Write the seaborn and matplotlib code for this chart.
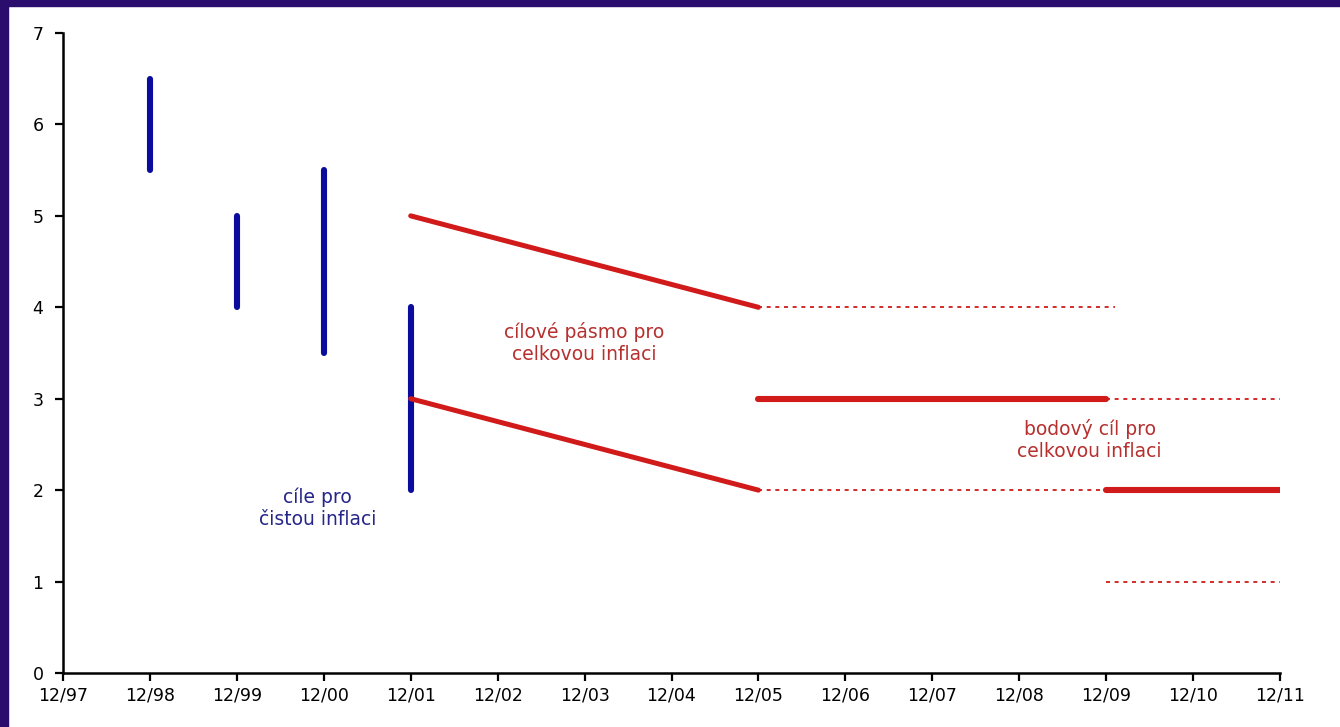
import matplotlib

matplotlib.use("Agg")
import matplotlib.pyplot as plt
import pandas as pd
import seaborn as sns

# ---------------------------------------------------------------------------
# Data
# ---------------------------------------------------------------------------
x_labels = ["12/97", "12/98", "12/99", "12/00", "12/01", "12/02", "12/03",
            "12/04", "12/05", "12/06", "12/07", "12/08", "12/09", "12/10",
            "12/11"]

# net inflation targets (vertical bands)
net_pos = [1, 2, 3, 4]
net_low = [5.5, 4.0, 3.5, 2.0]
net_high = [6.5, 5.0, 5.5, 4.0]

# headline inflation target band (12/01 -> 12/05)
band_x = [4, 8]
band_upper = [5.0, 4.0]
band_lower = [3.0, 2.0]

# point targets (solid) and tolerance bands (dotted)
point_x = [[8, 12], [12, 14]]
point_y = [3.0, 2.0]
dotted_x = [[8, 12.1], [8, 12], [12, 14], [12, 14]]
dotted_y = [4.0, 2.0, 3.0, 1.0]

BLUE = "#0b0b9e"
RED = "#d11a1a"
TXT_RED = "#b5302e"
TXT_BLUE = "#26268a"
FRAME = "#2b0d6e"

sns.set_style("white")
plt.rcParams["font.family"] = ["DejaVu Sans"]

fig = plt.figure(figsize=(13.4, 7.27), dpi=100)
fig.patch.set_facecolor("white")
# purple slide frame on the left and top
fig.add_artist(plt.Rectangle((0, 0), 8 / 1340, 1, transform=fig.transFigure,
                             color=FRAME, zorder=0))
fig.add_artist(plt.Rectangle((0, 1 - 6 / 727), 1, 6 / 727,
                             transform=fig.transFigure, color=FRAME, zorder=0))

ax = fig.add_axes([63 / 1340, 1 - 673 / 727, (1280 - 63) / 1340, (673 - 33) / 727])

# blue vertical bars
for x, lo, hi in zip(net_pos, net_low, net_high):
    seg = pd.DataFrame({"x": [x, x], "y": [lo, hi]})
    sns.lineplot(data=seg, x="x", y="y", estimator=None, sort=False,
                 color=BLUE, linewidth=4.4, solid_capstyle="round", ax=ax)

# sloped target band
for ys in (band_upper, band_lower):
    seg = pd.DataFrame({"x": band_x, "y": ys})
    sns.lineplot(data=seg, x="x", y="y", estimator=None, color=RED,
                 linewidth=3.6, solid_capstyle="round", ax=ax, zorder=3)

# dotted tolerance lines
for xs, y in zip(dotted_x, dotted_y):
    seg = pd.DataFrame({"x": xs, "y": [y, y]})
    sns.lineplot(data=seg, x="x", y="y", estimator=None, color=RED,
                 linewidth=1.3, dashes=False, ax=ax, zorder=2)
    ax.lines[-1].set_linestyle((0, (2.2, 2.6)))

# solid point targets
for xs, y in zip(point_x, point_y):
    seg = pd.DataFrame({"x": xs, "y": [y, y]})
    sns.lineplot(data=seg, x="x", y="y", estimator=None, color=RED,
                 linewidth=4.4, solid_capstyle="round", ax=ax, zorder=3)

# annotations
ax.text(6.0, 3.61, "cílové pásmo pro\ncelkovou inflaci", color=TXT_RED,
        fontsize=13.5, ha="center", va="center", linespacing=1.2)
ax.text(11.81, 2.55, "bodový cíl pro\ncelkovou inflaci", color=TXT_RED,
        fontsize=13.5, ha="center", va="center", linespacing=1.2)
ax.text(2.93, 1.80, "cíle pro\nčistou inflaci", color=TXT_BLUE,
        fontsize=13.5, ha="center", va="center", linespacing=1.2)

ax.set_xlim(0, 14)
ax.set_ylim(0, 7)
ax.set_xticks(range(len(x_labels)))
ax.set_xticklabels(x_labels)
ax.set_yticks(range(0, 8))
ax.set_xlabel("")
ax.set_ylabel("")
ax.tick_params(axis="both", direction="out", length=6, width=1.6,
               colors="black", labelsize=12.5, pad=4,
               bottom=True, left=True)
ax.tick_params(axis="y", pad=8)
for side in ("top", "right"):
    ax.spines[side].set_visible(False)
for side in ("left", "bottom"):
    ax.spines[side].set_linewidth(1.8)
    ax.spines[side].set_color("black")
ax.set_facecolor("white")

fig.savefig("out.png", dpi=100)
